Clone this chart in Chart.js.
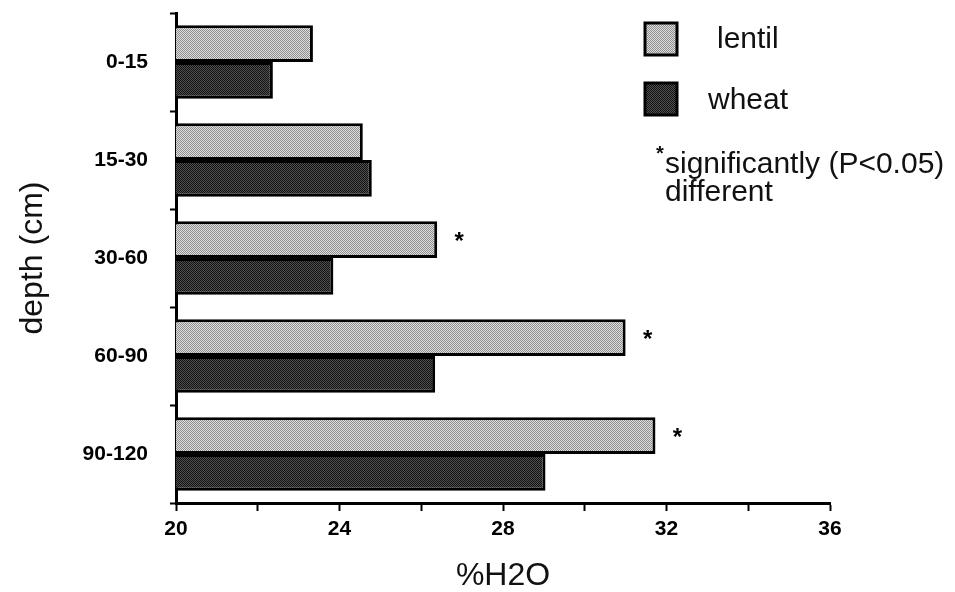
<!DOCTYPE html>
<html>
<head>
<meta charset="utf-8">
<script src="https://cdn.jsdelivr.net/npm/chart.js@4.4.0/dist/chart.umd.min.js"></script>
<style>
  html, body { margin: 0; padding: 0; background: #fff; }
  #wrap { width: 955px; height: 592px; }
</style>
</head>
<body>
<div id="wrap"><canvas id="waterChart" width="955" height="592"></canvas></div>
<script>
const depths = ['0-15', '15-30', '30-60', '60-90', '90-120'];
const lentilWater = [23.35, 24.57, 26.39, 31.0, 31.73];
const wheatWater = [22.37, 24.79, 23.85, 26.34, 29.04];
const significant = [false, false, true, true, true];
const xTickLabels = [20, 24, 28, 32, 36];

const FONT = "'Liberation Sans', Arial, sans-serif";

// fine dot screen like the printed figure
function makePattern(base, dot) {
    const c = document.createElement('canvas');
    c.width = 2;
    c.height = 2;
    const g = c.getContext('2d');
    g.fillStyle = base;
    g.fillRect(0, 0, 2, 2);
    g.fillStyle = dot;
    g.fillRect(0, 0, 1, 1);
    g.fillRect(1, 1, 1, 1);
    return g.createPattern(c, 'repeat');
}

const lentilFill = makePattern('#dedede', '#8e8e8e');
const wheatFill = makePattern('#505050', '#121212');

const notes = {
    id: 'notes',
    afterDatasetsDraw(chart) {
        const ctx = chart.ctx;
        const meta = chart.getDatasetMeta(0);
        ctx.save();
        ctx.fillStyle = '#000';
        ctx.textAlign = 'center';
        ctx.textBaseline = 'alphabetic';
        ctx.font = 'bold 24px ' + FONT;
        significant.forEach((sig, i) => {
            if (!sig) return;
            const bar = meta.data[i];
            ctx.fillText('*', bar.x + 22, bar.y + 9);
        });

        // legend
        ctx.lineWidth = 3;
        ctx.strokeStyle = '#000';
        ctx.fillStyle = lentilFill;
        ctx.fillRect(645, 23, 32, 32);
        ctx.strokeRect(645, 23, 32, 32);
        ctx.fillStyle = wheatFill;
        ctx.fillRect(645, 83, 32, 32);
        ctx.strokeRect(645, 83, 32, 32);

        ctx.fillStyle = '#111';
        ctx.textAlign = 'left';
        ctx.textBaseline = 'middle';
        ctx.font = '30px ' + FONT;
        ctx.fillText('lentil', 717, 40);
        ctx.fillText('wheat', 708, 101);
        ctx.fillText('significantly (P<0.05)', 665, 165);
        ctx.fillText('different', 665, 193);
        ctx.textAlign = 'center';
        ctx.textBaseline = 'alphabetic';
        ctx.font = 'bold 20px ' + FONT;
        ctx.fillText('*', 660, 160);
        ctx.restore();
    }
};

const ctx = document.getElementById('waterChart').getContext('2d');
const waterChart = new Chart(ctx, {
    type: 'bar',
    data: {
        labels: depths,
        datasets: [
            {
                label: 'lentil',
                data: lentilWater,
                backgroundColor: lentilFill,
                borderColor: '#000',
                borderWidth: 3,
                borderSkipped: 'start',
                categoryPercentage: 0.75,
                barPercentage: 1.0,
            },
            {
                label: 'wheat',
                data: wheatWater,
                backgroundColor: wheatFill,
                borderColor: '#000',
                borderWidth: 3,
                borderSkipped: 'start',
                categoryPercentage: 0.75,
                barPercentage: 1.0,
            }
        ]
    },
    options: {
        indexAxis: 'y',
        responsive: false,
        animation: false,
        layout: {
            autoPadding: false,
            padding: { top: 13, right: 125, left: 0, bottom: 0 }
        },
        scales: {
            x: {
                min: 20,
                max: 36,
                afterFit(scale) {
                    scale.height = 89;
                    scale.paddingLeft = 0;
                    scale.paddingRight = 0;
                },
                ticks: {
                    stepSize: 2,
                    autoSkip: false,
                    maxRotation: 0,
                    padding: 6,
                    color: '#000',
                    font: { family: FONT, size: 21, weight: 'bold' },
                    callback: (v) => xTickLabels.includes(v) ? String(v) : ''
                },
                grid: {
                    drawOnChartArea: false,
                    color: '#000',
                    tickLength: 8,
                    tickWidth: 2
                },
                border: { color: '#000', width: 3 },
                title: {
                    display: true,
                    text: '%H2O',
                    color: '#111',
                    font: { family: FONT, size: 32, lineHeight: 1 },
                    padding: { top: 0, bottom: 0 }
                }
            },
            y: {
                afterFit(scale) {
                    scale.width = 176;
                    scale.paddingTop = 0;
                    scale.paddingBottom = 0;
                },
                ticks: {
                    padding: 22,
                    color: '#000',
                    font: { family: FONT, size: 21, weight: 'bold' }
                },
                grid: {
                    drawOnChartArea: false,
                    offset: true,
                    color: '#000',
                    tickLength: 6,
                    tickWidth: 2
                },
                border: { color: '#000', width: 3 },
                title: {
                    display: true,
                    text: 'depth (cm)',
                    color: '#111',
                    font: { family: FONT, size: 32, lineHeight: 1 },
                    padding: { top: 17, bottom: 0 }
                }
            }
        },
        plugins: {
            legend: { display: false },
            tooltip: { enabled: false }
        }
    },
    plugins: [notes]
});
</script>
</body>
</html>
